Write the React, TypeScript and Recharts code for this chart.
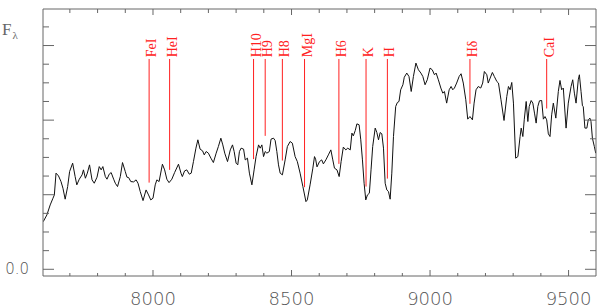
import React from 'react';
import { ComposedChart, Line, XAxis, YAxis, ReferenceLine, Scatter } from 'recharts';

const wavelengths = [
  7604,7617,7629,7639,7644,7650,7659,7668,7675,7683,
  7692,7699,7710,7719,7725,7734,7744,7749,7756,7763,
  7771,7780,7788,7798,7806,7813,7819,7828,7834,7842,
  7849,7858,7864,7872,7882,7890,7900,7906,7912,7920,
  7930,7939,7946,7954,7964,7975,7984,7992,8000,8008,
  8014,8022,8034,8042,8050,8058,8068,8078,8092,8101,
  8106,8114,8122,8131,8138,8146,8155,8162,8170,8179,
  8185,8192,8200,8209,8218,8228,8236,8245,8252,8259,
  8269,8279,8287,8293,8300,8306,8312,8318,8327,8333,
  8341,8348,8357,8365,8372,8381,8387,8393,8399,8405,
  8411,8420,8426,8435,8441,8447,8453,8459,8467,8477,
  8485,8495,8503,8513,8521,8531,8541,8552,8557,8567,
  8577,8583,8587,8592,8601,8609,8615,8624,8633,8642,
  8649,8655,8664,8672,8679,8687,8696,8703,8712,8718,
  8723,8730,8736,8744,8750,8756,8762,8768,8774,8781,
  8787,8793,8802,8808,8814,8820,8826,8832,8838,8844,
  8850,8856,8862,8868,8876,8882,8888,8894,8902,8907,
  8916,8924,8932,8940,8949,8958,8967,8974,8982,8990,
  9000,9008,9016,9022,9030,9039,9046,9052,9060,9069,
  9076,9082,9088,9096,9105,9112,9120,9129,9136,9144,
  9153,9159,9166,9174,9183,9190,9196,9205,9210,9217,
  9225,9232,9241,9247,9256,9267,9277,9283,9289,9295,
  9301,9309,9317,9325,9329,9335,9340,9347,9353,9358,
  9365,9371,9377,9383,9389,9395,9403,9409,9415,9421,
  9427,9433,9439,9445,9454,9463,9469,9475,9481,9491,
  9499,9509,9515,9521,9527,9535,9539,9545,9550,9553,
  9559,9566,9571,9577,9581,9586,9593,9598,
];

const fluxes = [
  0.639,0.729,0.863,0.953,0.997,1.289,1.252,1.176,1.087,0.940,
  1.109,1.310,1.423,1.243,1.132,1.208,1.266,1.333,1.221,1.289,
  1.400,1.199,1.154,1.235,1.377,1.333,1.377,1.243,1.208,1.275,
  1.297,1.208,1.154,1.109,1.243,1.431,1.310,1.235,1.230,1.176,
  1.172,1.199,1.154,1.042,0.921,1.064,0.997,0.930,0.953,1.132,
  1.199,1.176,1.409,1.333,1.208,1.162,1.208,1.297,1.409,1.289,
  1.243,1.319,1.333,1.275,1.289,1.444,1.624,1.736,1.611,1.588,
  1.534,1.579,1.557,1.490,1.431,1.557,1.646,1.758,1.668,1.557,
  1.444,1.601,1.668,1.579,1.423,1.400,1.579,1.624,1.611,1.467,
  1.490,1.289,1.132,1.333,1.511,1.668,1.624,1.668,1.511,1.579,
  1.557,1.579,1.745,1.758,1.726,1.579,1.400,1.289,1.266,1.467,
  1.646,1.713,1.691,1.511,1.444,1.289,1.109,0.907,0.930,1.132,
  1.356,1.511,1.477,1.373,1.444,1.467,1.413,1.467,1.534,1.601,
  1.467,1.356,1.333,1.243,1.444,1.638,1.601,1.624,1.601,1.826,
  1.789,1.860,1.950,1.937,1.736,1.467,1.154,0.930,0.997,1.020,
  1.333,1.646,1.893,1.834,1.736,1.834,1.816,1.624,1.154,1.064,
  1.042,0.940,1.289,1.780,2.183,2.236,2.250,2.407,2.474,2.575,
  2.631,2.585,2.384,2.585,2.765,2.675,2.631,2.585,2.474,2.541,
  2.698,2.675,2.608,2.631,2.541,2.430,2.362,2.384,2.228,2.407,
  2.451,2.407,2.430,2.497,2.585,2.622,2.497,2.273,2.013,2.048,
  2.004,2.228,2.407,2.451,2.430,2.497,2.652,2.608,2.497,2.564,
  2.639,2.585,2.518,2.497,2.273,1.995,2.317,2.451,2.407,2.505,
  2.228,1.490,1.511,1.780,1.893,1.780,2.004,2.250,1.981,2.183,
  2.263,2.228,2.094,1.960,2.183,2.259,2.263,2.013,2.048,2.004,
  1.816,1.780,2.071,2.228,2.027,2.384,2.532,2.407,2.430,1.893,
  2.228,2.451,2.541,2.362,2.228,2.541,2.608,2.384,2.192,2.183,
  1.893,1.893,2.004,2.027,1.981,1.758,1.646,1.557,
];

const lineNames = ['FeI', 'HeI', 'H10', 'H9', 'H8', 'MgI', 'H6', 'K', 'H', 'Hδ', 'CaI'];
const lineWavelengths = [7986, 8060, 8363, 8405, 8467, 8547, 8671, 8769, 8846, 9144, 9421];
const lineBottoms = [1.162, 1.333, 1.477, 1.789, 1.458, 1.101, 1.413, 1.109, 1.216, 2.219, 2.156];
const lineTop = 2.82;
const labelBase = 2.843;

const xDomain = [7603, 9599];
const yDomain = [-0.09, 3.49];
const xTicks = [7700, 7800, 7900, 8000, 8100, 8200, 8300, 8400, 8500, 8600, 8700, 8800, 8900, 9000, 9100, 9200, 9300, 9400, 9500];
const xLabelTicks = [8000, 8500, 9000, 9500];
const yTicks = [0, 0.25, 0.5, 0.75, 1, 1.25, 1.5, 1.75, 2, 2.25, 2.5, 2.75, 3, 3.25];
const yLabelTicks = [0];

const spectrum = wavelengths.map((w, i) => ({ w, f: fluxes[i] }));
const labels = lineNames.map((name, i) => ({ w: lineWavelengths[i], f: labelBase, name }));

const AXIS = '#666';
const TICK_FONT = { fontFamily: '"DejaVu Sans", sans-serif', fontWeight: 200 } as const;

const BottomTick = (p: any) => {
  const v = p.payload.value;
  const major = xLabelTicks.includes(v);
  return (
    <g>
      <line x1={p.x} x2={p.x} y1={p.y} y2={p.y - (major ? 6 : 3)} stroke={AXIS} strokeWidth={1} />
      {major && (
        <text x={p.x} y={p.y + 28.5} textAnchor="middle" fontSize={18} fill="#555" {...TICK_FONT}>
          {v}
        </text>
      )}
    </g>
  );
};

const TopTick = (p: any) => {
  const v = p.payload.value;
  const major = xLabelTicks.includes(v);
  return <line x1={p.x} x2={p.x} y1={p.y} y2={p.y + (major ? 6 : 4)} stroke={AXIS} strokeWidth={1} />;
};

const LeftTick = (p: any) => {
  const v = p.payload.value;
  const major = Number.isInteger(v);
  return (
    <g>
      <line x1={p.x} x2={p.x + (major ? 11 : 6)} y1={p.y} y2={p.y} stroke={AXIS} strokeWidth={1} />
      {yLabelTicks.includes(v) && (
        <text x={p.x - 14} y={p.y + 5} textAnchor="end" fontSize={15} fill="#555" {...TICK_FONT}>
          {v.toFixed(1)}
        </text>
      )}
    </g>
  );
};

const RightTick = (p: any) => {
  const v = p.payload.value;
  const major = Number.isInteger(v);
  return <line x1={p.x} x2={p.x - (major ? 11 : 6)} y1={p.y} y2={p.y} stroke={AXIS} strokeWidth={1} />;
};

const LabelShape = (p: any) => {
  const x = p.cx + 7;
  const y = p.cy;
  return (
    <text
      x={x}
      y={y}
      transform={`rotate(-90 ${x} ${y})`}
      textAnchor="start"
      fontSize={14}
      fill="#ff2020"
      fontFamily='"Liberation Serif", serif'
    >
      {p.payload.name}
    </text>
  );
};

export default function App() {
  return (
    <div style={{ position: 'absolute', left: 0, top: 0, width: 614, height: 307, background: '#fff' }}>
      <ComposedChart width={614} height={307} margin={{ top: 8, right: 17, bottom: 0, left: 0 }}>
        <XAxis
          xAxisId="bottom"
          dataKey="w"
          type="number"
          domain={xDomain}
          ticks={xTicks}
          interval={0}
          allowDataOverflow
          height={31}
          tickLine={false}
          tickSize={0}
          tickMargin={0}
          axisLine={{ stroke: AXIS }}
          tick={<BottomTick />}
        />
        <XAxis
          xAxisId="top"
          orientation="top"
          dataKey="w"
          type="number"
          domain={xDomain}
          ticks={xTicks}
          interval={0}
          allowDataOverflow
          height={1}
          tickLine={false}
          tickSize={0}
          tickMargin={0}
          axisLine={{ stroke: AXIS }}
          tick={<TopTick />}
        />
        <YAxis
          yAxisId="left"
          type="number"
          domain={yDomain}
          ticks={yTicks}
          interval={0}
          allowDataOverflow
          width={43}
          tickLine={false}
          tickSize={0}
          tickMargin={0}
          axisLine={{ stroke: AXIS }}
          tick={<LeftTick />}
        />
        <YAxis
          yAxisId="right"
          orientation="right"
          type="number"
          domain={yDomain}
          ticks={yTicks}
          interval={0}
          allowDataOverflow
          width={1}
          tickLine={false}
          tickSize={0}
          tickMargin={0}
          axisLine={{ stroke: AXIS }}
          tick={<RightTick />}
        />
        {lineWavelengths.map((w, i) => (
          <ReferenceLine
            key={lineNames[i]}
            xAxisId="bottom"
            yAxisId="left"
            segment={[{ x: w, y: lineBottoms[i] }, { x: w, y: lineTop }]}
            stroke="#ff2020"
            strokeWidth={1}
          />
        ))}
        <Line
          xAxisId="bottom"
          yAxisId="left"
          data={spectrum}
          dataKey="f"
          type="linear"
          stroke="#111"
          strokeWidth={1}
          dot={false}
          activeDot={false}
          isAnimationActive={false}
        />
        <Scatter
          xAxisId="bottom"
          yAxisId="left"
          data={labels}
          dataKey="f"
          shape={<LabelShape />}
          isAnimationActive={false}
        />
      </ComposedChart>
      <svg width={40} height={50} style={{ position: 'absolute', left: 0, top: 0 }}>
        <text x={2} y={35} fontFamily='"Liberation Serif", serif' fontSize={17} fill="#666">
          F
          <tspan fontSize={11} dy={4} dx={1}>λ</tspan>
        </text>
      </svg>
    </div>
  );
}
